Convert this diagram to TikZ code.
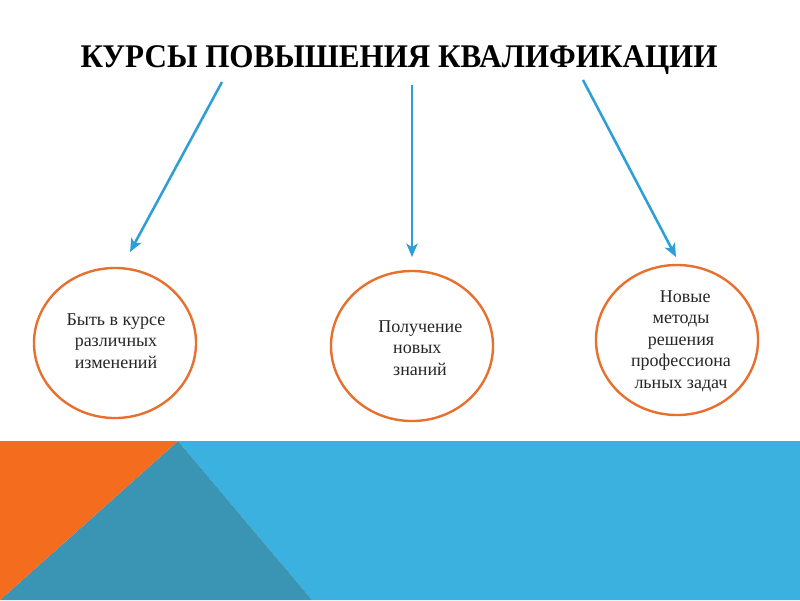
\documentclass[tikz,border=0pt]{standalone}
\usepackage{fontspec}
\setmainfont{Liberation Serif}
\usetikzlibrary{shapes.geometric,arrows.meta}
\definecolor{orng}{HTML}{F46C1E}
\definecolor{lblue}{HTML}{3AB1DE}
\definecolor{dblue}{HTML}{3A94B4}
\definecolor{ringc}{HTML}{E8702F}
\definecolor{arrc}{HTML}{2E9FD6}
\tikzset{
  ring/.style={ellipse, draw=ringc, line width=1.7pt, minimum width=4.05cm, minimum height=3.75cm, inner sep=0pt},
  txt/.style={font=\fontsize{12.8}{15.3}\selectfont, inner sep=0pt, text=black!85},
  arr/.style={draw=arrc, line width=1.8pt, -{Stealth[length=9.5pt,width=8pt,inset=2.5pt]}}
}
\begin{document}
\begin{tikzpicture}[x=0.025cm,y=-0.025cm]
\useasboundingbox (0,0) rectangle (800,600);
\fill[white] (0,0) rectangle (800,600);
% bottom band
\fill[lblue] (178,441) -- (800,441) -- (800,600) -- (312,600) -- cycle;
\fill[dblue] (178,441) -- (312,600) -- (0,600) -- cycle;
\fill[orng] (0,441) -- (178,441) -- (0,600) -- cycle;
% title
\node[font=\bfseries\fontsize{23.5}{28}\selectfont, inner sep=0pt, anchor=base] (title) at (399,67) {\scalebox{0.94}[1]{КУРСЫ ПОВЫШЕНИЯ КВАЛИФИКАЦИИ}};
% ellipses
\node[ring] (e1) at (115,343) {};
\node[ring] (e2) at (412,346) {};
\node[ring] (e3) at (677,340) {};
% texts
\node[txt, align=center] (t1) at (116,341) {Быть в курсе\\различных\\изменений};
\node[txt, align=left, anchor=west] (t2) at (378,348) {Получение\\\hspace{10.6pt}новых\\\hspace{10.6pt}знаний};
\node[txt, align=center] (t3) at (681,341) {\hspace{6pt}Новые\\методы\\решения\\профессиона\\льных задач};
% arrows
\coordinate (a1s) at (222,82);
\coordinate (a1e) at (130,252);
\coordinate (a2s) at (412,85);
\coordinate (a2e) at (412,257);
\coordinate (a3s) at (583,80);
\coordinate (a3e) at (676,257);
\draw[arr] (a1s) -- (a1e);
\draw[arr] (a2s) -- (a2e);
\draw[arr] (a3s) -- (a3e);
\end{tikzpicture}
\end{document}
